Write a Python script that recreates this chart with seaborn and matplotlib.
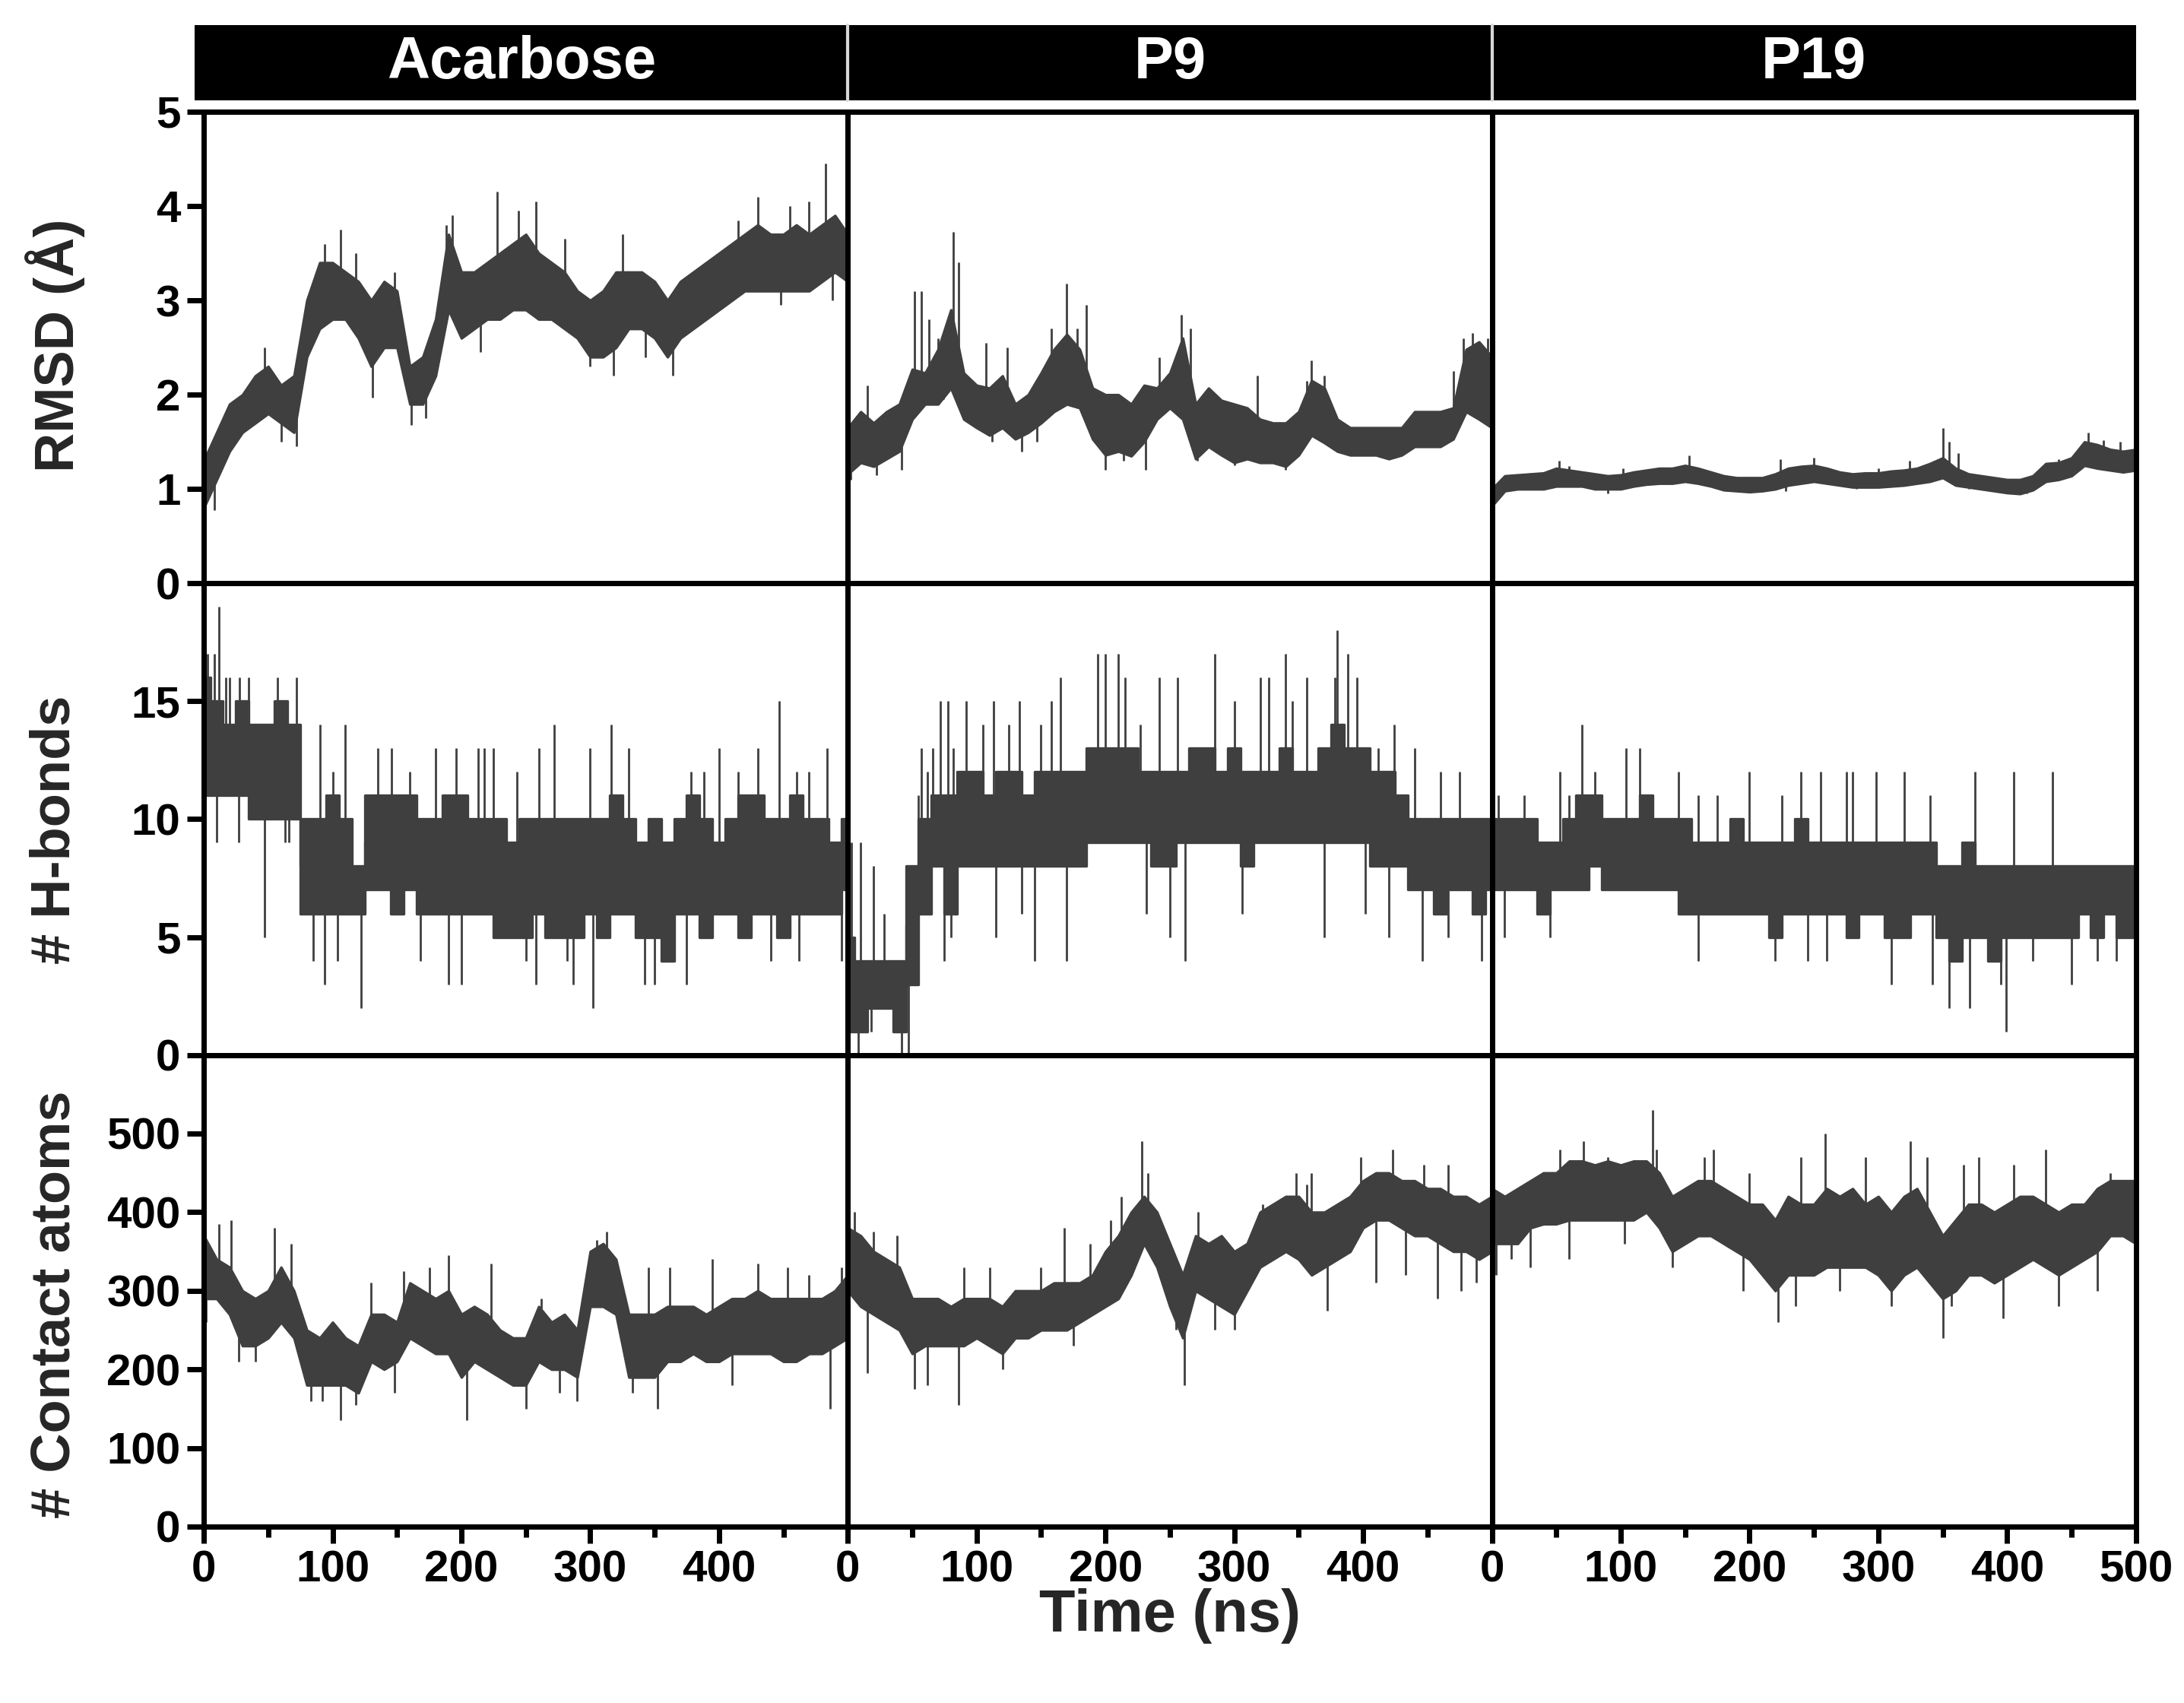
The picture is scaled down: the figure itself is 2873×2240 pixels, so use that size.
import numpy as np
import pandas as pd
import matplotlib
matplotlib.use('Agg')
import matplotlib.pyplot as plt
import seaborn as sns
from matplotlib.lines import Line2D

# time grid of the read-off envelope (ns)
TIME = list(range(0, 501, 10))
ligands = ['Acarbose', 'P9', 'P19']
metrics = ['RMSD (Å)', '# H-bonds', '# Contact atoms']

# RMSD envelopes (low / high of the dense trace, read every 10 ns)
acar_rmsd_lo = [0.8, 1.1, 1.4, 1.6, 1.7, 1.8, 1.7, 1.6, 2.4, 2.7,
                2.8, 2.8, 2.6, 2.3, 2.5, 2.5, 1.9, 1.9, 2.2, 2.9,
                2.6, 2.7, 2.8, 2.8, 2.9, 2.9, 2.8, 2.8, 2.7, 2.6,
                2.4, 2.4, 2.5, 2.7, 2.7, 2.6, 2.4, 2.6, 2.7, 2.8,
                2.9, 3.0, 3.1, 3.1, 3.1, 3.1, 3.1, 3.1, 3.2, 3.3, 3.2]
acar_rmsd_hi = [1.3, 1.6, 1.9, 2.0, 2.2, 2.3, 2.1, 2.2, 3.0, 3.4,
                3.4, 3.3, 3.2, 3.0, 3.2, 3.1, 2.3, 2.4, 2.8, 3.7,
                3.3, 3.3, 3.4, 3.5, 3.6, 3.7, 3.5, 3.4, 3.3, 3.1,
                3.0, 3.1, 3.3, 3.3, 3.3, 3.2, 3.0, 3.2, 3.3, 3.4,
                3.5, 3.6, 3.7, 3.8, 3.7, 3.7, 3.8, 3.7, 3.8, 3.9, 3.7]
p9_rmsd_lo = [1.16, 1.28, 1.24, 1.32, 1.4, 1.74, 1.9, 1.9, 2.07, 1.74,
              1.65, 1.57, 1.65, 1.53, 1.6, 1.7, 1.82, 1.9, 1.86, 1.53,
              1.36, 1.4, 1.35, 1.5, 1.74, 1.86, 1.74, 1.32, 1.45, 1.36,
              1.28, 1.32, 1.28, 1.28, 1.24, 1.36, 1.57, 1.49, 1.4, 1.36,
              1.36, 1.36, 1.32, 1.36, 1.45, 1.45, 1.45, 1.53, 1.82, 1.74, 1.65]
p9_rmsd_hi = [1.65, 1.82, 1.7, 1.82, 1.9, 2.27, 2.23, 2.48, 2.9, 2.23,
              2.1, 2.07, 2.2, 1.9, 2.0, 2.23, 2.48, 2.64, 2.48, 2.07,
              2.0, 2.0, 1.9, 2.1, 2.07, 2.23, 2.6, 1.9, 2.07, 1.94,
              1.9, 1.86, 1.74, 1.7, 1.7, 1.82, 2.15, 2.07, 1.74, 1.65,
              1.65, 1.65, 1.65, 1.65, 1.82, 1.82, 1.82, 1.86, 2.48, 2.56, 2.4]
p19_rmsd_lo = [0.82, 0.98, 1.0, 1.0, 1.0, 1.03, 1.03, 1.03, 1.0, 1.0,
               1.0, 1.03, 1.05, 1.06, 1.06, 1.08, 1.06, 1.03, 0.99, 0.98,
               0.97, 0.98, 1.0, 1.04, 1.06, 1.08, 1.06, 1.04, 1.02, 1.02,
               1.02, 1.03, 1.04, 1.06, 1.08, 1.12, 1.04, 1.02, 1.0, 0.98,
               0.96, 0.95, 0.99, 1.08, 1.1, 1.14, 1.25, 1.22, 1.2, 1.18, 1.2]
p19_rmsd_hi = [1.0, 1.14, 1.15, 1.16, 1.17, 1.22, 1.2, 1.18, 1.16, 1.14,
               1.15, 1.18, 1.2, 1.22, 1.22, 1.25, 1.22, 1.18, 1.14, 1.12,
               1.12, 1.12, 1.16, 1.22, 1.24, 1.25, 1.22, 1.18, 1.16, 1.17,
               1.17, 1.19, 1.2, 1.22, 1.27, 1.33, 1.22, 1.16, 1.14, 1.12,
               1.1, 1.1, 1.14, 1.27, 1.28, 1.33, 1.5, 1.47, 1.42, 1.4, 1.42]

# H-bond envelopes
acar_hb_lo = [11, 11, 11, 11, 10, 10, 10, 10, 6, 6,
              6, 6, 6, 7, 7, 6, 7, 6, 6, 6,
              6, 6, 6, 5, 5, 5, 6, 5, 5, 5,
              6, 5, 6, 6, 5, 5, 4, 6, 6, 5,
              6, 6, 5, 6, 6, 5, 6, 6, 6, 6, 7]
acar_hb_hi = [16, 15, 14, 15, 14, 14, 15, 14, 10, 10,
              11, 10, 8, 11, 11, 11, 11, 10, 10, 11,
              11, 10, 10, 10, 9, 10, 10, 10, 10, 10,
              10, 10, 11, 10, 9, 10, 9, 10, 11, 10,
              9, 10, 11, 11, 10, 10, 11, 10, 10, 9, 10]
p9_hb_lo = [1, 1, 2, 2, 1, 3, 6, 8, 6, 8,
            8, 8, 8, 8, 8, 8, 8, 8, 8, 9,
            9, 9, 9, 9, 8, 8, 9, 9, 9, 9,
            9, 8, 9, 9, 9, 9, 9, 9, 9, 9,
            9, 8, 8, 8, 7, 7, 6, 7, 7, 6, 7]
p9_hb_hi = [5, 4, 4, 4, 4, 8, 10, 11, 11, 12,
            12, 11, 12, 12, 11, 12, 12, 12, 12, 13,
            13, 13, 13, 12, 12, 12, 12, 13, 13, 12,
            13, 12, 12, 12, 13, 12, 12, 13, 14, 13,
            13, 12, 12, 11, 10, 10, 10, 10, 10, 10, 10]
p19_hb_lo = [7, 7, 7, 7, 6, 7, 7, 7, 8, 7,
             7, 7, 7, 7, 7, 6, 6, 6, 6, 6,
             6, 6, 5, 6, 6, 6, 6, 6, 5, 6,
             6, 5, 5, 6, 6, 5, 4, 5, 5, 4,
             5, 5, 5, 5, 5, 5, 6, 5, 6, 5, 5]
p19_hb_hi = [10, 10, 10, 10, 9, 9, 10, 11, 11, 10,
             10, 10, 11, 10, 10, 10, 9, 9, 9, 10,
             9, 9, 9, 9, 10, 9, 9, 9, 9, 9,
             9, 9, 9, 9, 9, 8, 8, 9, 8, 8,
             8, 8, 8, 8, 8, 8, 8, 8, 8, 8, 8]

# contact atom envelopes
acar_ct_lo = [290, 290, 270, 230, 230, 240, 260, 240, 180, 180,
              180, 180, 170, 210, 200, 210, 240, 230, 220, 220,
              190, 210, 200, 190, 180, 180, 210, 200, 200, 190,
              280, 280, 270, 190, 190, 190, 210, 210, 220, 210,
              210, 220, 220, 220, 220, 210, 210, 220, 220, 230, 240]
acar_ct_hi = [370, 340, 330, 300, 290, 300, 330, 300, 250, 240,
              260, 240, 230, 270, 270, 260, 310, 300, 290, 300,
              270, 280, 270, 250, 240, 240, 280, 260, 270, 250,
              350, 360, 340, 270, 270, 270, 280, 280, 280, 270,
              280, 290, 290, 300, 290, 290, 290, 290, 290, 300, 320]
p9_ct_lo = [300, 280, 270, 260, 250, 220, 230, 230, 230, 230,
            240, 230, 220, 240, 240, 250, 250, 250, 260, 270,
            280, 290, 320, 360, 330, 280, 240, 300, 290, 280,
            270, 300, 330, 340, 350, 340, 320, 330, 340, 350,
            380, 390, 390, 380, 370, 370, 360, 350, 350, 340, 350]
p9_ct_hi = [380, 370, 350, 340, 330, 290, 290, 290, 280, 290,
            290, 290, 280, 300, 300, 300, 310, 310, 310, 320,
            350, 370, 400, 420, 400, 360, 320, 370, 360, 370,
            350, 360, 400, 410, 420, 420, 400, 400, 410, 420,
            440, 450, 450, 440, 440, 430, 430, 420, 420, 410, 420]
p19_ct_lo = [360, 360, 360, 380, 385, 385, 390, 390, 390, 390,
             390, 390, 400, 380, 350, 360, 370, 370, 360, 350,
             340, 320, 300, 320, 320, 320, 330, 330, 330, 330,
             320, 300, 320, 330, 310, 290, 300, 320, 320, 310,
             320, 330, 340, 330, 320, 330, 340, 350, 370, 370, 360]
p19_ct_hi = [430, 420, 430, 440, 450, 450, 465, 465, 460, 465,
             460, 465, 465, 450, 420, 430, 440, 440, 430, 420,
             410, 410, 390, 420, 410, 410, 430, 420, 430, 410,
             420, 400, 420, 430, 400, 370, 390, 410, 410, 400,
             410, 420, 420, 410, 400, 410, 410, 430, 440, 440, 440]

# isolated excursions beyond the envelope: (time ns, value)
acar_rmsd_sp = [(8, 0.78), (47, 2.5), (60, 1.5), (72, 1.45), (94, 3.6), (106, 3.75), (118, 3.5),
                (131, 1.97), (148, 3.3), (161, 1.68), (172, 1.75), (188, 3.8), (193, 3.9), (215, 2.45),
                (228, 4.15), (244, 3.95), (258, 4.05), (280, 3.65), (300, 2.3), (318, 2.2), (325, 3.7),
                (343, 2.4), (364, 2.2), (415, 3.85), (430, 4.1), (448, 2.95), (455, 4.0), (470, 4.05),
                (483, 4.45), (488, 3.0)]
p9_rmsd_sp = [(2, 1.1), (15, 2.1), (22, 1.15), (42, 1.2), (52, 3.1), (57, 3.1), (63, 2.8), (70, 2.6),
              (74, 1.95), (82, 3.73), (86, 3.4), (96, 1.8), (107, 2.55), (112, 1.5), (124, 2.5),
              (135, 1.4), (147, 1.5), (158, 2.7), (170, 3.18), (178, 2.7), (185, 2.95), (200, 1.2),
              (214, 1.3), (231, 1.2), (242, 2.4), (259, 2.85), (266, 2.7), (271, 1.3), (300, 1.25),
              (318, 2.2), (340, 1.2), (356, 2.15), (360, 2.36), (370, 2.2), (387, 1.5), (400, 1.4),
              (418, 1.5), (448, 1.6), (470, 2.25), (478, 2.6), (485, 2.65), (493, 1.75), (497, 2.6)]
p19_rmsd_sp = [(1, 0.78), (52, 1.3), (60, 1.24), (90, 0.95), (102, 1.22), (153, 1.36), (175, 1.0),
               (224, 1.32), (228, 0.98), (250, 1.33), (283, 1.0), (300, 1.22), (324, 1.3), (350, 1.65),
               (355, 1.5), (362, 1.38), (370, 1.0), (400, 0.97), (415, 0.95), (440, 1.32), (463, 1.6),
               (475, 1.52), (488, 1.5)]
acar_hb_sp = [(3, 17), (8, 17), (12, 19), (17, 16), (20, 16), (28, 16), (35, 16), (57, 16), (72, 16),
              (10, 9), (27, 9), (47, 5), (63, 9), (66, 9), (90, 14), (100, 12), (110, 14), (85, 4),
              (94, 3), (104, 4), (122, 2), (135, 13), (146, 13), (160, 12), (180, 13), (196, 13),
              (213, 13), (218, 13), (225, 13), (190, 3), (200, 3), (168, 4), (243, 12), (260, 13),
              (272, 14), (258, 3), (250, 4), (300, 13), (316, 14), (330, 13), (302, 2), (287, 3),
              (282, 4), (342, 3), (350, 3), (358, 4), (378, 12), (375, 3), (388, 12), (400, 13),
              (415, 12), (430, 13), (447, 15), (460, 12), (470, 12), (484, 13), (462, 4), (440, 4),
              (423, 5), (495, 4)]
p9_hb_sp = [(3, 9), (10, 9), (20, 8), (28, 6), (8, 0), (42, 0), (47, 0), (18, 1), (55, 11), (57, 13),
            (62, 12), (66, 13), (72, 15), (78, 15), (82, 13), (75, 4), (80, 5), (92, 15), (105, 14),
            (113, 15), (125, 14), (133, 15), (150, 14), (158, 15), (165, 16), (115, 5), (145, 4),
            (170, 4), (135, 6), (194, 17), (200, 17), (210, 17), (215, 16), (227, 14), (242, 16),
            (256, 16), (262, 4), (250, 5), (232, 6), (285, 17), (300, 15), (320, 16), (327, 16),
            (306, 6), (340, 17), (345, 15), (356, 16), (378, 16), (380, 18), (388, 17), (395, 16),
            (370, 5), (402, 6), (412, 13), (424, 14), (420, 5), (440, 13), (446, 4), (460, 12),
            (475, 12), (492, 4), (485, 6), (466, 5)]
p19_hb_sp = [(5, 11), (25, 11), (53, 12), (60, 11), (70, 14), (80, 12), (104, 13), (115, 13),
             (125, 11), (145, 12), (160, 11), (175, 11), (200, 12), (225, 11), (240, 12), (255, 12),
             (275, 12), (280, 12), (298, 12), (320, 12), (340, 11), (375, 12), (405, 12), (435, 12),
             (10, 5), (45, 5), (160, 4), (220, 4), (245, 4), (260, 4), (310, 3), (342, 3), (355, 2),
             (371, 2), (399, 1), (395, 3), (420, 4), (450, 3), (485, 4), (470, 4)]
acar_ct_sp = [(2, 260), (12, 385), (21, 390), (27, 210), (40, 210), (55, 380), (68, 360), (83, 160),
              (92, 160), (106, 135), (118, 155), (130, 310), (148, 170), (155, 325), (175, 330),
              (190, 345), (204, 135), (223, 335), (250, 150), (262, 290), (276, 170), (290, 160),
              (305, 365), (313, 375), (333, 170), (345, 330), (352, 150), (362, 330), (395, 340),
              (410, 180), (430, 335), (453, 330), (470, 320), (486, 150), (495, 330)]
p9_ct_sp = [(5, 400), (15, 195), (20, 375), (38, 370), (52, 175), (62, 180), (86, 155), (90, 330),
            (110, 330), (120, 200), (150, 330), (168, 380), (175, 230), (188, 360), (204, 390),
            (212, 420), (228, 490), (233, 450), (255, 250), (261, 180), (272, 400), (285, 250),
            (300, 250), (322, 410), (348, 450), (356, 435), (360, 450), (372, 275), (398, 470),
            (410, 310), (423, 480), (433, 320), (447, 460), (458, 290), (466, 460), (476, 300),
            (488, 310)]
p19_ct_sp = [(3, 320), (15, 340), (30, 330), (53, 480), (60, 340), (71, 490), (90, 470), (103, 360),
             (125, 530), (128, 480), (140, 330), (165, 470), (172, 480), (195, 300), (200, 450),
             (222, 260), (236, 280), (240, 470), (259, 500), (270, 300), (290, 470), (310, 280),
             (325, 490), (338, 470), (350, 240), (357, 280), (366, 460), (378, 470), (397, 265),
             (405, 460), (430, 480), (440, 280), (470, 300), (480, 450)]

bands = {
    ('RMSD (Å)', 'Acarbose'): (acar_rmsd_lo, acar_rmsd_hi, acar_rmsd_sp),
    ('RMSD (Å)', 'P9'): (p9_rmsd_lo, p9_rmsd_hi, p9_rmsd_sp),
    ('RMSD (Å)', 'P19'): (p19_rmsd_lo, p19_rmsd_hi, p19_rmsd_sp),
    ('# H-bonds', 'Acarbose'): (acar_hb_lo, acar_hb_hi, acar_hb_sp),
    ('# H-bonds', 'P9'): (p9_hb_lo, p9_hb_hi, p9_hb_sp),
    ('# H-bonds', 'P19'): (p19_hb_lo, p19_hb_hi, p19_hb_sp),
    ('# Contact atoms', 'Acarbose'): (acar_ct_lo, acar_ct_hi, acar_ct_sp),
    ('# Contact atoms', 'P9'): (p9_ct_lo, p9_ct_hi, p9_ct_sp),
    ('# Contact atoms', 'P19'): (p19_ct_lo, p19_ct_hi, p19_ct_sp),
}

ylims = [(0, 5), (0, 20), (0, 600)]
yticks = [[0, 1, 2, 3, 4, 5], [0, 5, 10, 15], [0, 100, 200, 300, 400, 500]]
TRACE = '#3f3f3f'

sns.set_theme(style='ticks')
plt.rcParams['font.family'] = ['Liberation Sans', 'DejaVu Sans']
plt.rcParams['font.weight'] = 'bold'
plt.rcParams['axes.labelweight'] = 'bold'

fig, axes = plt.subplots(3, 3, figsize=(2873 / 200, 2240 / 200), dpi=200)
fig.subplots_adjust(left=0.0933, right=0.978, bottom=0.1036, top=0.9344, wspace=0, hspace=0)

for r, metric in enumerate(metrics):
    for c, lig in enumerate(ligands):
        ax = axes[r, c]
        lo, hi, sp = bands[(metric, lig)]
        df = pd.DataFrame({'time': np.repeat(TIME, 2),
                           'value': np.column_stack([lo, hi]).ravel()})
        hb = metric == '# H-bonds'
        sns.lineplot(data=df, x='time', y='value', ax=ax, estimator='mean',
                     errorbar=lambda v: (v.min(), v.max()), color=TRACE, lw=0.8,
                     drawstyle='steps-mid' if hb else 'default',
                     err_kws={'alpha': 1, 'linewidth': 1.2, 'edgecolor': TRACE,
                              'step': 'mid' if hb else None})
        # spikes leaving the envelope
        st = np.array([s[0] for s in sp])
        sv = np.array([s[1] for s in sp])
        idx = np.rint(st / 10).astype(int)
        base = (np.array(lo)[idx] + np.array(hi)[idx]) / 2
        ax.vlines(st, base, sv, color=TRACE, lw=1.0)

        ax.set_xlim(0, 500)
        ax.set_ylim(*ylims[r])
        ax.set_xlabel('')
        ax.set_ylabel('')
        ax.set_xticks(range(0, 501 if c == 2 else 401, 100))
        ax.set_xticks(range(50, 500, 100), minor=True)
        ax.set_yticks(yticks[r])
        for s in ax.spines.values():
            s.set_linewidth(2.5)
            s.set_color('black')
        ax.tick_params(which='major', direction='out', width=2.5, length=8, labelsize=21,
                       color='black', labelcolor='black', pad=3)
        ax.tick_params(which='minor', direction='out', width=2.5, length=5, color='black')
        ax.tick_params(axis='x', which='both', bottom=(r == 2), labelbottom=(r == 2), top=False)
        ax.tick_params(axis='y', which='both', left=(c == 0), labelleft=(c == 0), right=False)

# black title strips
W, H = 2873, 2240
for c, lig in enumerate(ligands):
    pos = axes[0, c].get_position()
    x0 = pos.x0 - (12 / W if c == 0 else 0)
    sax = fig.add_axes([x0, 1 - 132 / H, pos.x1 - x0, 99 / H])
    sax.set_facecolor('black')
    sax.set_xticks([])
    sax.set_yticks([])
    for s in sax.spines.values():
        s.set_visible(False)
    sax.text(0.5, 0.5, lig, color='white', ha='center', va='center', fontsize=28,
             fontweight='bold', transform=sax.transAxes)
for c in (1, 2):
    xb = axes[0, c].get_position().x0
    fig.add_artist(Line2D([xb, xb], [1 - 132 / H, 1 - 33 / H], color='#d8d8d8', lw=1.5,
                          transform=fig.transFigure))

fig.text(0.0254, 0.797, 'RMSD (Å)', rotation=90, ha='center', va='center', fontsize=26, fontweight='bold')
fig.text(0.0254, 0.513, '# H-bonds', rotation=90, ha='center', va='center', fontsize=26, fontweight='bold')
fig.text(0.0254, 0.234, '# Contact atoms', rotation=90, ha='center', va='center', fontsize=26, fontweight='bold')
fig.text(0.5357, 0.0513, 'Time (ns)', ha='center', va='center', fontsize=28, fontweight='bold')

fig.savefig('out.png', dpi=200)
